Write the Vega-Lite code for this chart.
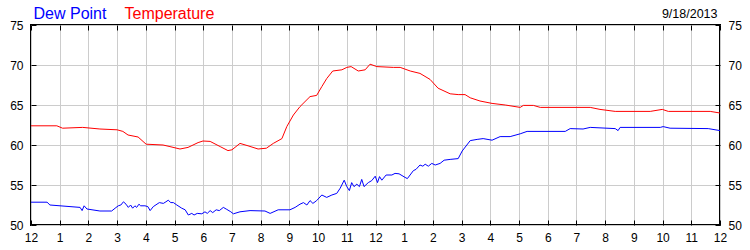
{
  "$schema": "https://vega.github.io/schema/vega-lite/v6.json",
  "width": 689,
  "height": 200,
  "autosize": {"type": "none"},
  "padding": {"left": 31, "top": 25, "right": 30, "bottom": 25},
  "background": "white",
  "config": {
    "font": "Liberation Sans",
    "view": {"stroke": "black", "strokeWidth": 2},
    "axis": {
      "domain": false,
      "tickColor": "black",
      "tickSize": -5,
      "tickWidth": 1,
      "labelFont": "Liberation Sans",
      "labelFontSize": 12,
      "labelColor": "black",
      "labelFlush": false,
      "labelOverlap": false,
      "gridColor": "#cccccc",
      "gridWidth": 1,
      "titleFont": "Liberation Sans",
      "titleFontWeight": "normal"
    }
  },
  "datasets": {
    "wx": [
      {"h": 0, "v": 62.4, "s": "Temperature"},
      {"h": 0.9, "v": 62.4, "s": "Temperature"},
      {"h": 1.1, "v": 62.1, "s": "Temperature"},
      {"h": 1.8, "v": 62.2, "s": "Temperature"},
      {"h": 2.4, "v": 62.0, "s": "Temperature"},
      {"h": 3.0, "v": 61.9, "s": "Temperature"},
      {"h": 3.2, "v": 61.7, "s": "Temperature"},
      {"h": 3.38, "v": 61.25, "s": "Temperature"},
      {"h": 3.73, "v": 61.0, "s": "Temperature"},
      {"h": 4.01, "v": 60.1, "s": "Temperature"},
      {"h": 4.6, "v": 60.0, "s": "Temperature"},
      {"h": 4.84, "v": 59.8, "s": "Temperature"},
      {"h": 5.19, "v": 59.5, "s": "Temperature"},
      {"h": 5.47, "v": 59.7, "s": "Temperature"},
      {"h": 5.82, "v": 60.3, "s": "Temperature"},
      {"h": 5.99, "v": 60.5, "s": "Temperature"},
      {"h": 6.24, "v": 60.45, "s": "Temperature"},
      {"h": 6.59, "v": 59.8, "s": "Temperature"},
      {"h": 6.86, "v": 59.3, "s": "Temperature"},
      {"h": 7.0, "v": 59.4, "s": "Temperature"},
      {"h": 7.28, "v": 60.2, "s": "Temperature"},
      {"h": 7.56, "v": 59.9, "s": "Temperature"},
      {"h": 7.91, "v": 59.5, "s": "Temperature"},
      {"h": 8.2, "v": 59.6, "s": "Temperature"},
      {"h": 8.44, "v": 60.2, "s": "Temperature"},
      {"h": 8.74, "v": 60.8, "s": "Temperature"},
      {"h": 8.91, "v": 62.3, "s": "Temperature"},
      {"h": 9.14, "v": 63.75, "s": "Temperature"},
      {"h": 9.37, "v": 64.8, "s": "Temperature"},
      {"h": 9.72, "v": 66.05, "s": "Temperature"},
      {"h": 9.95, "v": 66.2, "s": "Temperature"},
      {"h": 10.13, "v": 67.3, "s": "Temperature"},
      {"h": 10.3, "v": 68.3, "s": "Temperature"},
      {"h": 10.51, "v": 69.25, "s": "Temperature"},
      {"h": 10.83, "v": 69.4, "s": "Temperature"},
      {"h": 11.0, "v": 69.7, "s": "Temperature"},
      {"h": 11.15, "v": 69.8, "s": "Temperature"},
      {"h": 11.4, "v": 69.25, "s": "Temperature"},
      {"h": 11.64, "v": 69.4, "s": "Temperature"},
      {"h": 11.81, "v": 70.1, "s": "Temperature"},
      {"h": 12.05, "v": 69.8, "s": "Temperature"},
      {"h": 12.62, "v": 69.7, "s": "Temperature"},
      {"h": 12.86, "v": 69.7, "s": "Temperature"},
      {"h": 13.21, "v": 69.25, "s": "Temperature"},
      {"h": 13.55, "v": 68.95, "s": "Temperature"},
      {"h": 13.9, "v": 68.2, "s": "Temperature"},
      {"h": 14.18, "v": 67.1, "s": "Temperature"},
      {"h": 14.6, "v": 66.4, "s": "Temperature"},
      {"h": 14.88, "v": 66.3, "s": "Temperature"},
      {"h": 15.12, "v": 66.3, "s": "Temperature"},
      {"h": 15.3, "v": 65.9, "s": "Temperature"},
      {"h": 15.64, "v": 65.5, "s": "Temperature"},
      {"h": 16.06, "v": 65.2, "s": "Temperature"},
      {"h": 16.52, "v": 65.0, "s": "Temperature"},
      {"h": 17.04, "v": 64.7, "s": "Temperature"},
      {"h": 17.15, "v": 64.95, "s": "Temperature"},
      {"h": 17.5, "v": 64.95, "s": "Temperature"},
      {"h": 17.74, "v": 64.7, "s": "Temperature"},
      {"h": 19.48, "v": 64.7, "s": "Temperature"},
      {"h": 19.82, "v": 64.45, "s": "Temperature"},
      {"h": 20.35, "v": 64.2, "s": "Temperature"},
      {"h": 21.57, "v": 64.2, "s": "Temperature"},
      {"h": 21.99, "v": 64.45, "s": "Temperature"},
      {"h": 22.2, "v": 64.2, "s": "Temperature"},
      {"h": 23.66, "v": 64.2, "s": "Temperature"},
      {"h": 24.0, "v": 64.0, "s": "Temperature"},
      {"h": 0, "v": 52.85, "s": "Dew Point"},
      {"h": 0.56, "v": 52.85, "s": "Dew Point"},
      {"h": 0.66, "v": 52.5, "s": "Dew Point"},
      {"h": 1.71, "v": 52.2, "s": "Dew Point"},
      {"h": 1.78, "v": 51.8, "s": "Dew Point"},
      {"h": 1.85, "v": 52.4, "s": "Dew Point"},
      {"h": 1.95, "v": 52.0, "s": "Dew Point"},
      {"h": 2.4, "v": 51.75, "s": "Dew Point"},
      {"h": 2.81, "v": 51.75, "s": "Dew Point"},
      {"h": 2.93, "v": 52.1, "s": "Dew Point"},
      {"h": 3.04, "v": 52.4, "s": "Dew Point"},
      {"h": 3.13, "v": 52.5, "s": "Dew Point"},
      {"h": 3.22, "v": 52.9, "s": "Dew Point"},
      {"h": 3.31, "v": 52.6, "s": "Dew Point"},
      {"h": 3.39, "v": 52.2, "s": "Dew Point"},
      {"h": 3.47, "v": 52.5, "s": "Dew Point"},
      {"h": 3.54, "v": 52.1, "s": "Dew Point"},
      {"h": 3.62, "v": 52.4, "s": "Dew Point"},
      {"h": 3.68, "v": 52.2, "s": "Dew Point"},
      {"h": 3.76, "v": 52.6, "s": "Dew Point"},
      {"h": 3.82, "v": 52.4, "s": "Dew Point"},
      {"h": 3.97, "v": 52.4, "s": "Dew Point"},
      {"h": 4.07, "v": 52.3, "s": "Dew Point"},
      {"h": 4.15, "v": 51.8, "s": "Dew Point"},
      {"h": 4.26, "v": 52.3, "s": "Dew Point"},
      {"h": 4.47, "v": 52.8, "s": "Dew Point"},
      {"h": 4.61, "v": 52.7, "s": "Dew Point"},
      {"h": 4.7, "v": 52.9, "s": "Dew Point"},
      {"h": 4.78, "v": 53.1, "s": "Dew Point"},
      {"h": 4.87, "v": 52.8, "s": "Dew Point"},
      {"h": 4.96, "v": 52.8, "s": "Dew Point"},
      {"h": 5.08, "v": 52.5, "s": "Dew Point"},
      {"h": 5.25, "v": 52.1, "s": "Dew Point"},
      {"h": 5.37, "v": 51.9, "s": "Dew Point"},
      {"h": 5.48, "v": 51.25, "s": "Dew Point"},
      {"h": 5.6, "v": 51.45, "s": "Dew Point"},
      {"h": 5.68, "v": 51.25, "s": "Dew Point"},
      {"h": 5.79, "v": 51.45, "s": "Dew Point"},
      {"h": 5.95, "v": 51.4, "s": "Dew Point"},
      {"h": 6.06, "v": 51.65, "s": "Dew Point"},
      {"h": 6.14, "v": 51.45, "s": "Dew Point"},
      {"h": 6.24, "v": 51.8, "s": "Dew Point"},
      {"h": 6.33, "v": 51.55, "s": "Dew Point"},
      {"h": 6.45, "v": 51.9, "s": "Dew Point"},
      {"h": 6.56, "v": 51.8, "s": "Dew Point"},
      {"h": 6.7, "v": 52.2, "s": "Dew Point"},
      {"h": 6.82, "v": 51.95, "s": "Dew Point"},
      {"h": 6.96, "v": 51.65, "s": "Dew Point"},
      {"h": 7.05, "v": 51.4, "s": "Dew Point"},
      {"h": 7.28, "v": 51.65, "s": "Dew Point"},
      {"h": 7.63, "v": 51.8, "s": "Dew Point"},
      {"h": 8.15, "v": 51.75, "s": "Dew Point"},
      {"h": 8.33, "v": 51.45, "s": "Dew Point"},
      {"h": 8.61, "v": 51.9, "s": "Dew Point"},
      {"h": 9.02, "v": 51.9, "s": "Dew Point"},
      {"h": 9.2, "v": 52.2, "s": "Dew Point"},
      {"h": 9.37, "v": 52.6, "s": "Dew Point"},
      {"h": 9.49, "v": 52.8, "s": "Dew Point"},
      {"h": 9.61, "v": 52.5, "s": "Dew Point"},
      {"h": 9.72, "v": 53.05, "s": "Dew Point"},
      {"h": 9.82, "v": 52.7, "s": "Dew Point"},
      {"h": 9.95, "v": 53.05, "s": "Dew Point"},
      {"h": 10.13, "v": 53.75, "s": "Dew Point"},
      {"h": 10.3, "v": 53.45, "s": "Dew Point"},
      {"h": 10.48, "v": 53.75, "s": "Dew Point"},
      {"h": 10.65, "v": 53.95, "s": "Dew Point"},
      {"h": 10.77, "v": 54.6, "s": "Dew Point"},
      {"h": 10.91, "v": 55.6, "s": "Dew Point"},
      {"h": 11.0, "v": 54.8, "s": "Dew Point"},
      {"h": 11.09, "v": 54.3, "s": "Dew Point"},
      {"h": 11.17, "v": 55.3, "s": "Dew Point"},
      {"h": 11.25, "v": 54.8, "s": "Dew Point"},
      {"h": 11.35, "v": 55.1, "s": "Dew Point"},
      {"h": 11.44, "v": 54.8, "s": "Dew Point"},
      {"h": 11.52, "v": 55.7, "s": "Dew Point"},
      {"h": 11.6, "v": 54.8, "s": "Dew Point"},
      {"h": 11.75, "v": 55.3, "s": "Dew Point"},
      {"h": 11.87, "v": 55.55, "s": "Dew Point"},
      {"h": 11.99, "v": 56.1, "s": "Dew Point"},
      {"h": 12.07, "v": 55.3, "s": "Dew Point"},
      {"h": 12.14, "v": 56.05, "s": "Dew Point"},
      {"h": 12.22, "v": 55.6, "s": "Dew Point"},
      {"h": 12.37, "v": 56.25, "s": "Dew Point"},
      {"h": 12.57, "v": 56.25, "s": "Dew Point"},
      {"h": 12.68, "v": 56.45, "s": "Dew Point"},
      {"h": 12.82, "v": 56.4, "s": "Dew Point"},
      {"h": 13.03, "v": 55.95, "s": "Dew Point"},
      {"h": 13.11, "v": 55.8, "s": "Dew Point"},
      {"h": 13.32, "v": 56.8, "s": "Dew Point"},
      {"h": 13.41, "v": 56.95, "s": "Dew Point"},
      {"h": 13.55, "v": 57.5, "s": "Dew Point"},
      {"h": 13.65, "v": 57.35, "s": "Dew Point"},
      {"h": 13.73, "v": 57.6, "s": "Dew Point"},
      {"h": 13.84, "v": 57.35, "s": "Dew Point"},
      {"h": 13.96, "v": 57.7, "s": "Dew Point"},
      {"h": 14.08, "v": 57.5, "s": "Dew Point"},
      {"h": 14.25, "v": 57.7, "s": "Dew Point"},
      {"h": 14.39, "v": 58.1, "s": "Dew Point"},
      {"h": 14.6, "v": 58.2, "s": "Dew Point"},
      {"h": 14.88, "v": 58.3, "s": "Dew Point"},
      {"h": 15.02, "v": 59.25, "s": "Dew Point"},
      {"h": 15.3, "v": 60.55, "s": "Dew Point"},
      {"h": 15.54, "v": 60.7, "s": "Dew Point"},
      {"h": 15.75, "v": 60.8, "s": "Dew Point"},
      {"h": 16.06, "v": 60.6, "s": "Dew Point"},
      {"h": 16.34, "v": 61.05, "s": "Dew Point"},
      {"h": 16.69, "v": 61.05, "s": "Dew Point"},
      {"h": 17.04, "v": 61.4, "s": "Dew Point"},
      {"h": 17.28, "v": 61.7, "s": "Dew Point"},
      {"h": 18.61, "v": 61.7, "s": "Dew Point"},
      {"h": 18.78, "v": 62.05, "s": "Dew Point"},
      {"h": 19.23, "v": 62.0, "s": "Dew Point"},
      {"h": 19.48, "v": 62.2, "s": "Dew Point"},
      {"h": 20.35, "v": 62.05, "s": "Dew Point"},
      {"h": 20.45, "v": 61.8, "s": "Dew Point"},
      {"h": 20.52, "v": 62.2, "s": "Dew Point"},
      {"h": 21.92, "v": 62.2, "s": "Dew Point"},
      {"h": 22.02, "v": 62.3, "s": "Dew Point"},
      {"h": 22.26, "v": 62.1, "s": "Dew Point"},
      {"h": 23.59, "v": 62.05, "s": "Dew Point"},
      {"h": 24.0, "v": 61.8, "s": "Dew Point"}
    ]
  },
  "data": {"name": "wx"},
  "layer": [
    {
      "mark": {"type": "line", "strokeWidth": 1, "interpolate": "linear"},
      "encoding": {
        "x": {
          "field": "h", "type": "quantitative",
          "scale": {"domain": [0, 24], "nice": false, "zero": false},
          "axis": {
            "orient": "bottom", "title": null, "grid": true,
            "values": [0,1,2,3,4,5,6,7,8,9,10,11,12,13,14,15,16,17,18,19,20,21,22,23,24],
            "labelExpr": "datum.value % 12 == 0 ? '12' : '' + (datum.value % 12)",
            "labelPadding": 12
          }
        },
        "y": {
          "field": "v", "type": "quantitative",
          "scale": {"domain": [50, 75], "nice": false, "zero": false},
          "axis": {
            "orient": "left", "grid": true,
            "values": [50, 55, 60, 65, 70, 75],
            "labelPadding": 13,
            "title": "Dew Point", "titleColor": "#0000ff", "titleFontSize": 16,
            "titleAngle": 0, "titleAlign": "left", "titleBaseline": "alphabetic",
            "titleX": 2, "titleY": -7
          }
        },
        "color": {
          "field": "s", "type": "nominal",
          "scale": {"domain": ["Dew Point", "Temperature"], "range": ["#0000ff", "#ff0000"]},
          "legend": null
        }
      }
    },
    {
      "mark": {"type": "line", "strokeWidth": 1, "strokeOpacity": 0},
      "encoding": {
        "x": {
          "field": "h", "type": "quantitative",
          "axis": {
            "orient": "top", "grid": false, "labels": false,
            "values": [0,1,2,3,4,5,6,7,8,9,10,11,12,13,14,15,16,17,18,19,20,21,22,23,24],
            "title": "Temperature", "titleColor": "#ff0000", "titleFontSize": 16,
            "titleAlign": "left", "titleBaseline": "alphabetic",
            "titleX": 93, "titleY": -7
          }
        },
        "y": {
          "field": "v", "type": "quantitative",
          "axis": {
            "orient": "right", "grid": false,
            "values": [50, 55, 60, 65, 70, 75],
            "labelPadding": 13,
            "title": "9/18/2013", "titleColor": "black", "titleFontSize": 12.5,
            "titleAngle": 0, "titleAlign": "right", "titleBaseline": "alphabetic",
            "titleX": -3, "titleY": -8
          }
        },
        "color": {"field": "s", "type": "nominal", "legend": null}
      }
    }
  ],
  "resolve": {"axis": {"x": "independent", "y": "independent"}}
}
